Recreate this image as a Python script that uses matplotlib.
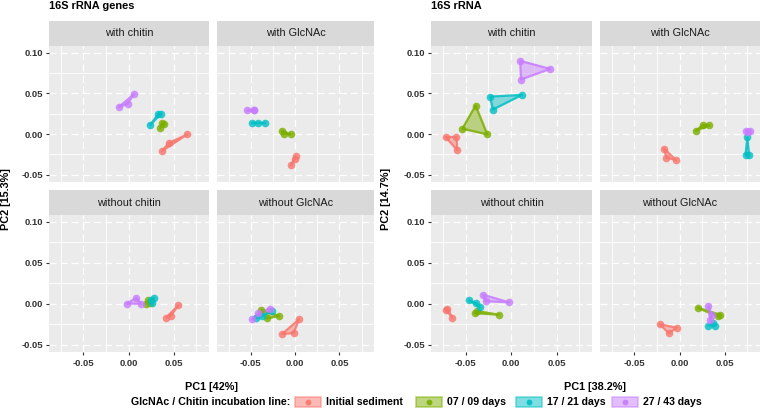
import matplotlib
matplotlib.use("Agg")
import matplotlib.pyplot as plt
from matplotlib.patches import Rectangle, Polygon
from matplotlib.lines import Line2D

plt.rcParams["font.family"] = ["Liberation Sans", "DejaVu Sans"]
plt.rcParams["lines.scale_dashes"] = False

# ── Data ────────────────────────────────────────────────────────────────
GROUPS = ["Initial sediment", "07 / 09 days", "17 / 21 days", "27 / 43 days"]
COLORS = ["#F8766D", "#7CAE00", "#00BFC4", "#C77CFF"]
FACETS = ["with chitin", "with GlcNAc", "without chitin", "without GlcNAc"]

# 16S rRNA genes — per facet, one list of 3 points per group
genes_with_chitin_x = [[0.037, 0.0445, 0.065], [0.037, 0.035, 0.039], [0.024, 0.033, 0.036], [-0.011, -0.001, 0.006]]
genes_with_chitin_y = [[-0.021, -0.011, -0.0005], [0.014, 0.007, 0.012], [0.011, 0.025, 0.025], [0.033, 0.037, 0.049]]
genes_with_glcnac_x = [[-0.0046, -0.0002, 0.0006], [-0.015, -0.012, -0.005], [-0.048, -0.042, -0.034], [-0.054, -0.046, -0.046]]
genes_with_glcnac_y = [[-0.0386, -0.0304, -0.0275], [0.004, 0.0004, -0.0005], [0.014, 0.014, 0.014], [0.029, 0.029, 0.030]]
genes_without_chitin_x = [[0.0416, 0.047, 0.055], [0.019, 0.021, 0.024], [0.025, 0.028, 0.026], [-0.002, 0.0085, 0.014]]
genes_without_chitin_y = [[-0.017, -0.015, -0.002], [0.0, 0.004, 0.001], [0.004, 0.007, 0.001], [0.0, 0.007, 0.0]]
genes_without_glcnac_x = [[-0.0146, -0.0017, 0.0046], [-0.038, -0.032, -0.018], [-0.044, -0.037, -0.026], [-0.048, -0.042, -0.0285]]
genes_without_glcnac_y = [[-0.037, -0.036, -0.019], [-0.008, -0.018, -0.015], [-0.018, -0.015, -0.0095], [-0.019, -0.012, -0.006]]

# 16S rRNA
rna_with_chitin_x = [[-0.072, -0.060, -0.059], [-0.0535, -0.039, -0.026], [-0.023, -0.020, 0.012], [0.010, 0.011, 0.043]]
rna_with_chitin_y = [[-0.0037, -0.0037, -0.020], [0.0065, 0.035, -0.0005], [0.046, 0.030, 0.048], [0.090, 0.067, 0.080]]
rna_with_glcnac_x = [[-0.017, -0.0146, -0.004], [0.018, 0.026, 0.033], [0.075, 0.073, 0.077], [0.0733, 0.0777, 0.0755]]
rna_with_glcnac_y = [[-0.018, -0.029, -0.032], [0.004, 0.0114, 0.0106], [-0.0042, -0.0254, -0.0263], [0.004, 0.004, 0.003]]
rna_without_chitin_x = [[-0.072, -0.070, -0.0645], [-0.040, -0.037, -0.0136], [-0.046, -0.034, -0.038], [-0.031, -0.028, -0.002]]
rna_without_chitin_y = [[-0.0074, -0.006, -0.017], [-0.0116, -0.009, -0.0135], [0.004, -0.004, 0.0004], [0.011, 0.003, 0.0016]]
rna_without_glcnac_x = [[-0.022, -0.012, -0.003], [0.020, 0.045, 0.042], [0.032, 0.039, 0.037], [0.032, 0.034, 0.0356]]
rna_without_glcnac_y = [[-0.025, -0.036, -0.0295], [-0.005, -0.0135, -0.0156], [-0.0267, -0.0267, -0.024], [-0.0033, -0.020, -0.014]]

GENES = [(genes_with_chitin_x, genes_with_chitin_y), (genes_with_glcnac_x, genes_with_glcnac_y),
         (genes_without_chitin_x, genes_without_chitin_y), (genes_without_glcnac_x, genes_without_glcnac_y)]
RNA = [(rna_with_chitin_x, rna_with_chitin_y), (rna_with_glcnac_x, rna_with_glcnac_y),
       (rna_without_chitin_x, rna_without_chitin_y), (rna_without_glcnac_x, rna_without_glcnac_y)]

MAJOR_TICKS_X = [-0.05, 0.0, 0.05]
MAJOR_TICKS_Y = [-0.05, 0.0, 0.05, 0.10]
MINOR_TICKS = [-0.075, -0.025, 0.025, 0.075]

# ── Layout (pixels) ─────────────────────────────────────────────────────
W, H = 760, 411
XLIM = (-0.088, 0.089)
YLIM = (-0.059, 0.1082)
ROWS = [(21, 46, 182), (190, 215, 352)]  # strip top, panel top, panel bottom

PANEL_BG = "#EBEBEB"
STRIP_BG = "#D9D9D9"
TEXT_DARK = "#1A1A1A"
TICK_COL = "#333333"


def px_axes(fig, x0, y0, x1, y1):
    return fig.add_axes([x0 / W, 1 - y1 / H, (x1 - x0) / W, (y1 - y0) / H])


def draw_panel(ax, xs, ys, show_x, show_y):
    ax.set_facecolor(PANEL_BG)
    ax.set_xlim(*XLIM)
    ax.set_ylim(*YLIM)
    for s in ax.spines.values():
        s.set_visible(False)
    for v in MINOR_TICKS:
        ax.axvline(v, color="white", lw=0.6, zorder=0.5)
        ax.axhline(v, color="white", lw=0.6, zorder=0.5)
    for v in MAJOR_TICKS_X:
        ax.axvline(v, color="white", lw=0.9, dashes=(5, 3), zorder=0.6)
    for v in MAJOR_TICKS_Y:
        ax.axhline(v, color="white", lw=0.9, dashes=(5, 3), zorder=0.6)

    for gx, gy, c in zip(xs, ys, COLORS):
        ax.add_patch(Polygon(list(zip(gx, gy)), closed=True, facecolor=c, alpha=0.45,
                             edgecolor="none", zorder=2))
        ax.add_patch(Polygon(list(zip(gx, gy)), closed=True, facecolor="none",
                             edgecolor=c, lw=1.6, alpha=0.85, joinstyle="round", zorder=3))
    for gx, gy, c in zip(xs, ys, COLORS):
        ax.plot(gx, gy, "o", color=c, markersize=5.5, alpha=0.8, mec="none", zorder=4)

    ax.set_xticks(MAJOR_TICKS_X)
    ax.set_yticks(MAJOR_TICKS_Y)
    ax.set_xticklabels(["-0.05", "0.00", "0.05"])
    ax.set_yticklabels(["-0.05", "0.00", "0.05", "0.10"])
    ax.tick_params(axis="x", bottom=show_x, labelbottom=show_x, length=2.5, width=0.8,
                   color=TICK_COL, labelcolor=TICK_COL, labelsize=6.8, pad=2.5)
    ax.tick_params(axis="y", left=show_y, labelleft=show_y, length=2.5, width=0.8,
                   color=TICK_COL, labelcolor=TICK_COL, labelsize=6.8, pad=1.5)
    for lab in ax.get_xticklabels() + ax.get_yticklabels():
        lab.set_fontweight("bold")


def draw_block(fig, data, cols, title, xlabel, ylabel, ylabel_x):
    for i, (xs, ys) in enumerate(data):
        r, c = divmod(i, 2)
        x0, x1 = cols[c]
        st, pt, pb = ROWS[r]
        sax = px_axes(fig, x0, st, x1, pt)
        sax.set_facecolor(STRIP_BG)
        sax.set_xticks([])
        sax.set_yticks([])
        for s in sax.spines.values():
            s.set_visible(False)
        sax.text(0.5, 0.5, FACETS[i], ha="center", va="center", fontsize=7.8,
                 color=TEXT_DARK, transform=sax.transAxes)
        ax = px_axes(fig, x0, pt, x1, pb)
        draw_panel(ax, xs, ys, show_x=(r == 1), show_y=(c == 0))

    fig.text(cols[0][0] / W, 1 - 6 / H, title, ha="left", va="center",
             fontsize=7.9, fontweight="bold", color="black")
    xc = (cols[0][0] + cols[1][1]) / 2
    fig.text(xc / W, 1 - 387 / H, xlabel, ha="center", va="center",
             fontsize=7.8, fontweight="bold", color="black")
    fig.text(ylabel_x / W, 1 - 199 / H, ylabel, ha="center", va="center", rotation=90,
             fontsize=7.8, fontweight="bold", color="black")


def draw_legend(fig):
    ly = 402
    fig.text(290 / W, 1 - ly / H, "GlcNAc / Chitin incubation line:", ha="right", va="center",
             fontsize=7.7, fontweight="bold", color="black")
    key_x = [295, 416, 516, 612]
    for kx, c, lab in zip(key_x, COLORS, GROUPS):
        kw, kh = 26, 10
        fig.patches.append(Rectangle((kx / W, 1 - (ly + kh / 2) / H), kw / W, kh / H,
                                     transform=fig.transFigure, facecolor=c, alpha=0.5,
                                     edgecolor=c, lw=1.2, figure=fig))
        fig.lines.append(Line2D([(kx + kw / 2) / W], [1 - ly / H], transform=fig.transFigure,
                                marker="o", markersize=4.2, color=c, mec="none", alpha=0.9,
                                figure=fig))
        fig.text((kx + kw + 5) / W, 1 - ly / H, lab, ha="left", va="center",
                 fontsize=7.6, fontweight="bold", color="black")


def main():
    fig = plt.figure(figsize=(W / 100, H / 100), dpi=100)
    fig.patch.set_facecolor("white")
    draw_block(fig, GENES, [(49, 209), (217, 374)], "16S rRNA genes", "PC1 [42%]", "PC2 [15.3%]", 6)
    draw_block(fig, RNA, [(431, 592), (600, 760)], "16S rRNA", "PC1 [38.2%]", "PC2 [14.7%]", 386)
    draw_legend(fig)
    fig.savefig("out.png", dpi=100, facecolor="white")


if __name__ == "__main__":
    main()
